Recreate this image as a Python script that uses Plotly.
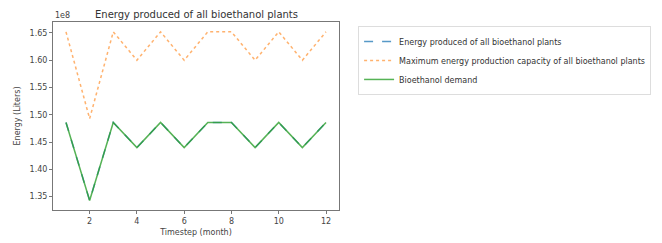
import plotly.graph_objects as go

months = [1, 2, 3, 4, 5, 6, 7, 8, 9, 10, 11, 12]
demand = [148.6e6, 134.3e6, 148.6e6, 144.0e6, 148.6e6, 144.0e6, 148.6e6, 148.6e6, 144.0e6, 148.6e6, 144.0e6, 148.6e6]
produced = list(demand)
capacity = [165.2e6, 149.3e6, 165.2e6, 160.0e6, 165.2e6, 160.0e6, 165.2e6, 165.2e6, 160.0e6, 165.2e6, 160.0e6, 165.2e6]
ytick_vals = [1.35e8, 1.40e8, 1.45e8, 1.50e8, 1.55e8, 1.60e8, 1.65e8]
ytick_text = ["1.35", "1.40", "1.45", "1.50", "1.55", "1.60", "1.65"]
xtick_vals = [2, 4, 6, 8, 10, 12]

fig = go.Figure()
fig.add_trace(go.Scatter(x=months, y=produced, mode="lines", name="Energy produced of all bioethanol plants",
                         line=dict(color="#1f77b4", dash="dash", width=1.5), opacity=0.75))
fig.add_trace(go.Scatter(x=months, y=capacity, mode="lines", name="Maximum energy production capacity of all bioethanol plants",
                         line=dict(color="#ff7f0e", dash="dot", width=1.5), opacity=0.6))
fig.add_trace(go.Scatter(x=months, y=demand, mode="lines", name="Bioethanol demand",
                         line=dict(color="#2ca02c", width=1.5), opacity=0.8))

axis_common = dict(showgrid=False, zeroline=False, showline=True, linecolor="#777", linewidth=1,
                   mirror=True, ticks="outside", ticklen=3, tickcolor="#777", automargin=False,
                   tickfont=dict(size=8, color="#444"))
fig.update_xaxes(range=[0.45, 12.55], tickvals=xtick_vals,
                 title=dict(text="Timestep (month)", font=dict(size=8, color="#444"), standoff=4), **axis_common)
fig.update_yaxes(range=[1.3256e8, 1.670e8], tickvals=ytick_vals, ticktext=ytick_text,
                 title=dict(text="Energy (Liters)", font=dict(size=8, color="#444"), standoff=7), **axis_common)

fig.update_layout(
    width=654, height=235,
    margin=dict(l=45, r=322, t=14, b=33),
    paper_bgcolor="white", plot_bgcolor="white",
    font=dict(family="DejaVu Sans", size=8, color="#444"),
    title=dict(text="Energy produced of all bioethanol plants", x=(45 + 332) / 2 / 654, xanchor="center",
               y=1 - 6 / 235, yanchor="middle", font=dict(size=10, color="#333")),
    legend=dict(x=1.063, y=0.979, xanchor="left", yanchor="top", bordercolor="#ddd", borderwidth=1,
                font=dict(size=8, color="#333"), tracegroupgap=0, itemwidth=30),
    showlegend=True,
    annotations=[dict(text="1e8", xref="paper", yref="paper", x=0, y=1, xanchor="left", yanchor="bottom",
                      showarrow=False, font=dict(size=8, color="#444"))],
)
fig.write_html("out.html")
